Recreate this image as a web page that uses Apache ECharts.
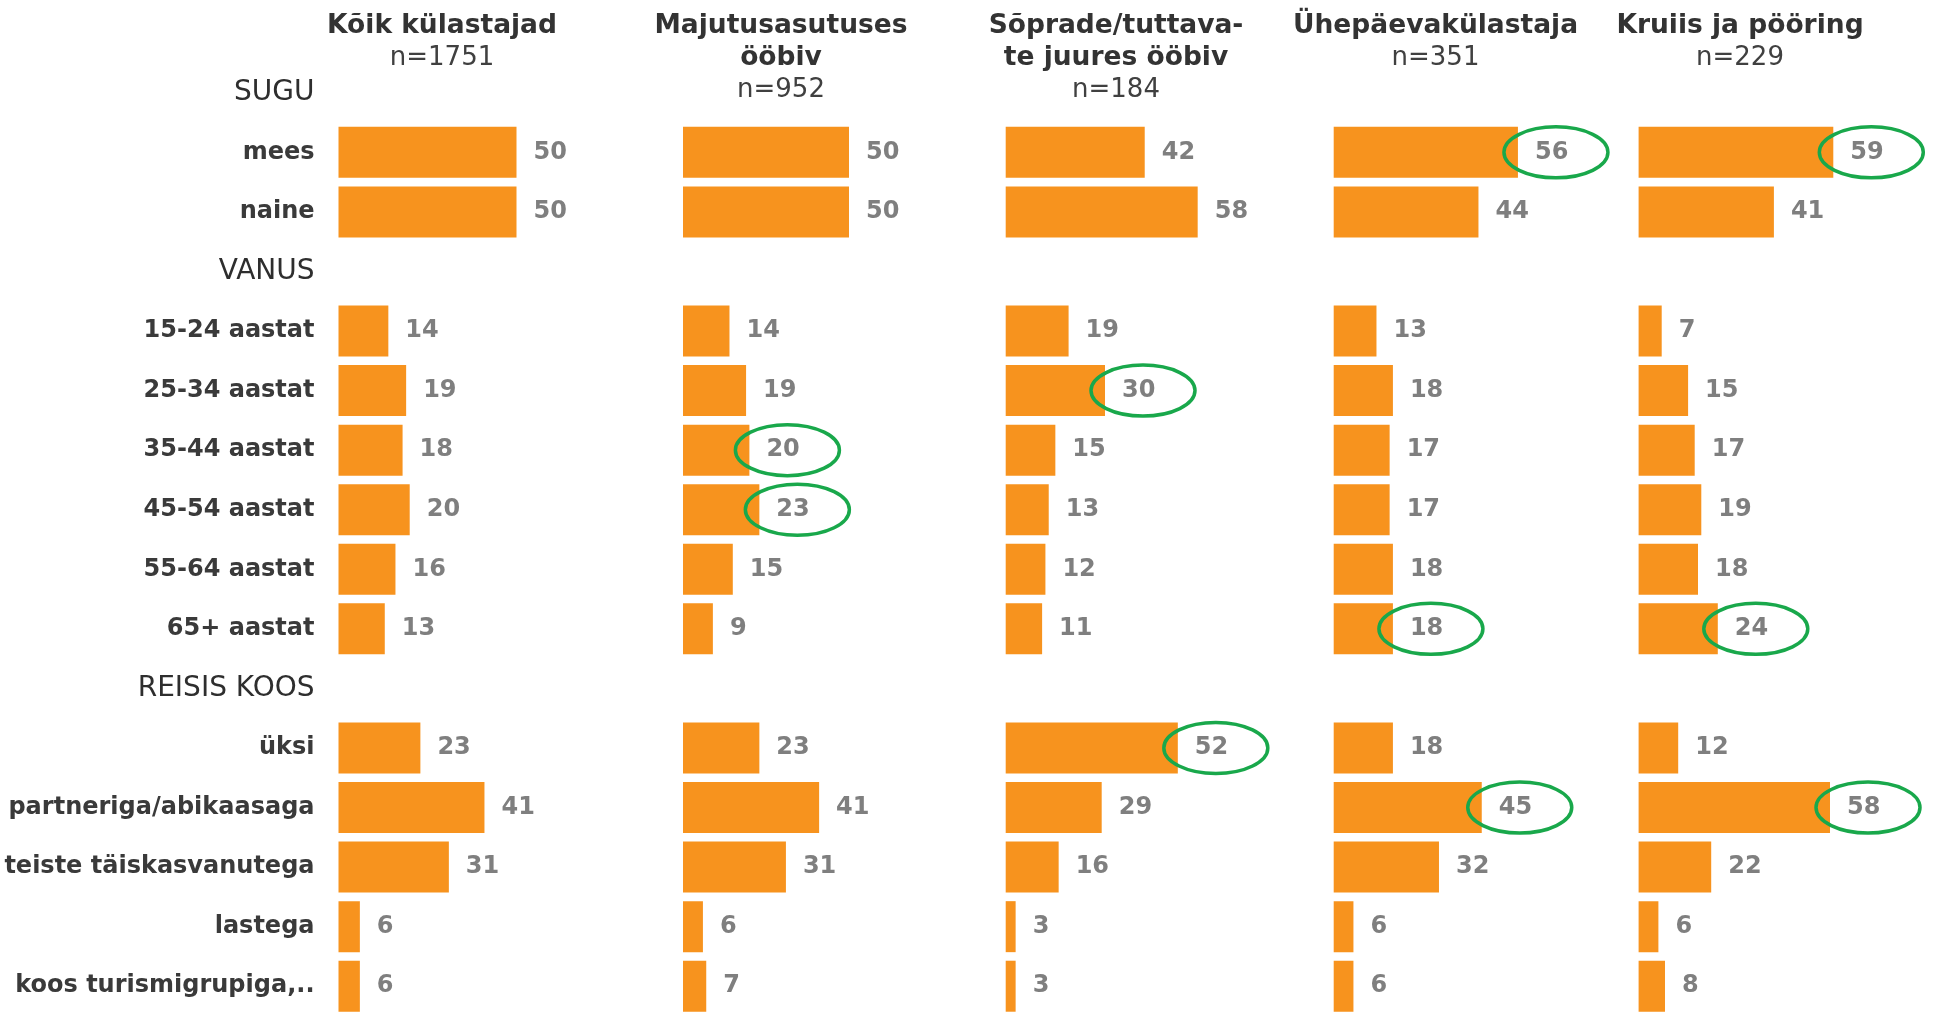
<!DOCTYPE html>
<html>
<head>
<meta charset="utf-8">
<script src="https://cdn.jsdelivr.net/npm/echarts@6/dist/echarts.min.js"></script>
<style>
  html, body { margin: 0; padding: 0; background: #fff; }
  #chart { width: 1937px; height: 1016px; }
</style>
</head>
<body>
<div id="chart"></div>
<script>
// rows, top to bottom (section titles have no bar)
const categories = [
  'SUGU', 'mees', 'naine',
  'VANUS', '15-24 aastat', '25-34 aastat', '35-44 aastat', '45-54 aastat', '55-64 aastat', '65+ aastat',
  'REISIS KOOS', 'üksi', 'partneriga/abikaasaga', 'teiste täiskasvanutega', 'lastega', 'koos turismigrupiga,..'
]
const sections = ['SUGU', 'VANUS', 'REISIS KOOS']

const groupNames = ['Kõik külastajad', 'Majutusasutuses\nööbiv', 'Sõprade/tuttava-\nte juures ööbiv', 'Ühepäevakülastaja', 'Kruiis ja pööring']
const groupN = [1751, 952, 184, 351, 229]

const koikKulastajad = [null, 50, 50, null, 14, 19, 18, 20, 16, 13, null, 23, 41, 31, 6, 6]
const majutusasutuses = [null, 50, 50, null, 14, 19, 20, 23, 15, 9, null, 23, 41, 31, 6, 7]
const sopradeJuures = [null, 42, 58, null, 19, 30, 15, 13, 12, 11, null, 52, 29, 16, 3, 3]
const uhepaeva = [null, 56, 44, null, 13, 18, 17, 17, 18, 18, null, 18, 45, 32, 6, 6]
const kruiis = [null, 59, 41, null, 7, 15, 17, 19, 18, 24, null, 12, 58, 22, 6, 8]
const groupValues = [koikKulastajad, majutusasutuses, sopradeJuures, uhepaeva, kruiis]

// rows circled in green, per group
const highlights = [
  [],
  ['35-44 aastat', '45-54 aastat'],
  ['25-34 aastat', 'üksi'],
  ['mees', '65+ aastat', 'partneriga/abikaasaga'],
  ['mees', '65+ aastat', 'partneriga/abikaasaga'],
]

// layout
const FONT = '"DejaVu Sans", Verdana, sans-serif'
const gridLeft = [338.5, 683, 1005.7, 1333.7, 1638.6]
const gridWidth = [213.6, 199.2, 198.6, 197.4, 198]
const headerX = [442, 781, 1116, 1435.5, 1740]

const chart = echarts.init(document.getElementById('chart'))

const grids = [], xAxes = [], yAxes = [], series = [], graphics = []

groupNames.forEach((name, g) => {
  grids.push({ left: gridLeft[g], width: gridWidth[g], top: 63, height: 960, containLabel: false })
  xAxes.push({ type: 'value', gridIndex: g, min: 0, max: 60, show: false })
  yAxes.push({
    type: 'category',
    gridIndex: g,
    data: categories,
    inverse: true,
    axisLine: { show: false },
    axisTick: { show: false },
    splitLine: { show: false },
    axisLabel: g === 0 ? {
      show: true,
      margin: 24,
      formatter: v => sections.includes(v) ? `{s|${v}}` : `{c|${v}}`,
      rich: {
        s: { fontFamily: FONT, fontSize: 28, color: '#2e2e2e' },
        c: { fontFamily: FONT, fontSize: 24, fontWeight: 'bold', color: '#3a3a3a' },
      },
    } : { show: false },
  })

  series.push({
    type: 'bar',
    xAxisIndex: g,
    yAxisIndex: g,
    barWidth: 51,
    data: groupValues[g].map(v => v == null ? '-' : v),
    itemStyle: { color: '#F7931E' },
    label: {
      show: true,
      position: 'right',
      distance: 17,
      color: '#7f7f7f',
      fontFamily: FONT,
      fontWeight: 'bold',
      fontSize: 24,
    },
    silent: true,
  })

  series.push({
    type: 'custom',
    xAxisIndex: g,
    yAxisIndex: g,
    z: 5,
    silent: true,
    data: highlights[g].map(c => [groupValues[g][categories.indexOf(c)], c]),
    encode: { x: 0, y: 1 },
    renderItem(params, api) {
      const p = api.coord([api.value(0), api.value(1)])
      return {
        type: 'ellipse',
        shape: { cx: p[0] + 38, cy: p[1], rx: 52, ry: 25.5 },
        style: { fill: 'none', stroke: '#19a84b', lineWidth: 3.5 },
      }
    },
  })

  // column headers
  const lines = name.split('\n')
  lines.forEach((line, i) => {
    graphics.push({
      type: 'text', x: headerX[g], y: 26 + i * 32,
      style: { text: line, font: `bold 26.5px ${FONT}`, fill: '#333', align: 'center', verticalAlign: 'middle' },
    })
  })
  graphics.push({
    type: 'text', x: headerX[g], y: 26 + lines.length * 32,
    style: { text: `n=${groupN[g]}`, font: `26px ${FONT}`, fill: '#404040', align: 'center', verticalAlign: 'middle' },
  })
})

chart.setOption({
  animation: false,
  backgroundColor: '#fff',
  grid: grids,
  xAxis: xAxes,
  yAxis: yAxes,
  series,
  graphic: graphics,
})
</script>
</body>
</html>
